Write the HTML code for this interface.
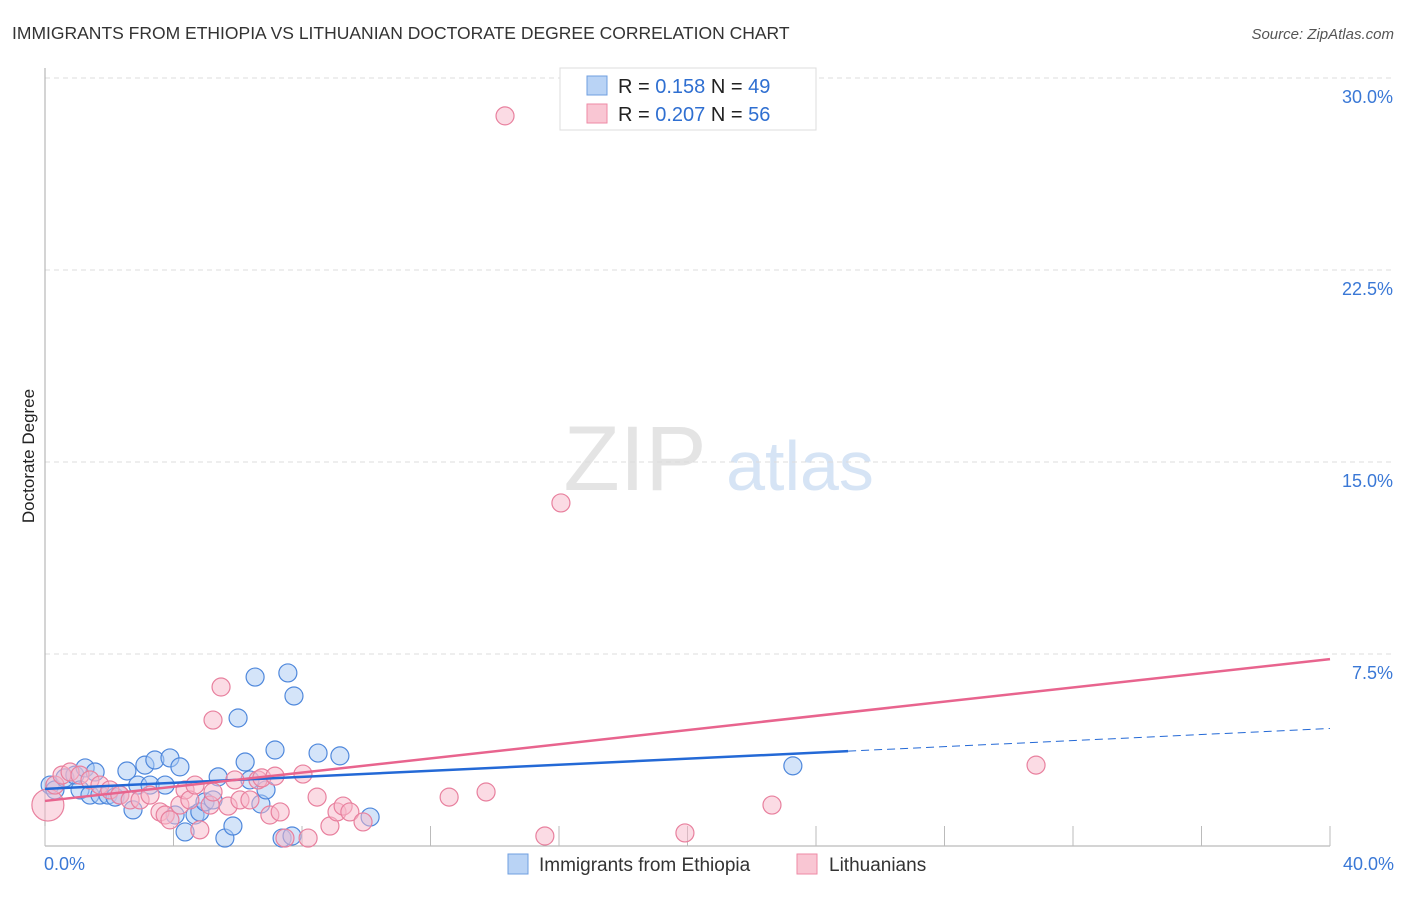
<!DOCTYPE html>
<html><head><meta charset="utf-8"><style>
body{margin:0;background:#fff;font-family:"Liberation Sans",sans-serif}
svg text{font-family:"Liberation Sans",sans-serif}
</style></head><body>
<svg id="chart" width="1406" height="892" viewBox="0 0 1406 892">
<text x="12" y="39" font-size="17.5" fill="#333">IMMIGRANTS FROM ETHIOPIA VS LITHUANIAN DOCTORATE DEGREE CORRELATION CHART</text>
<text x="1394" y="39" font-size="15" fill="#555" font-style="italic" text-anchor="end">Source: ZipAtlas.com</text>
<text x="34" y="456" font-size="17" fill="#222" text-anchor="middle" transform="rotate(-90 34 456)">Doctorate Degree</text>
<g><text x="635" y="490" font-size="92" fill="#e4e4e4" font-family="Liberation Serif,serif" text-anchor="middle">ZIP</text><text x="800" y="490" font-size="70" fill="#d6e4f5" text-anchor="middle">atlas</text></g>
<g id="grid"></g><g id="ticks"></g><g id="pts"></g><g id="lines"></g>
<g>
<rect x="560" y="68" width="256" height="62" fill="#fff" stroke="#ddd"/>
<rect x="587" y="76" width="20" height="19" fill="#b9d3f5" stroke="#6f9fe0"/>
<text x="618" y="93" font-size="20" fill="#222">R = <tspan fill="#2f6fd1"> 0.158</tspan>   N = <tspan fill="#2f6fd1">49</tspan></text>
<rect x="587" y="104" width="20" height="19" fill="#f9c6d3" stroke="#ee8aa6"/>
<text x="618" y="121" font-size="20" fill="#222">R = <tspan fill="#2f6fd1">0.207</tspan>   N = <tspan fill="#2f6fd1">56</tspan></text>
</g>
<g>
<rect x="508" y="854" width="20" height="20" fill="#b9d3f5" stroke="#6f9fe0"/>
<text x="539" y="871" font-size="19" fill="#333">Immigrants from Ethiopia</text>
<rect x="797" y="854" width="20" height="20" fill="#f9c6d3" stroke="#ee8aa6"/>
<text x="829" y="871" font-size="19" fill="#333">Lithuanians</text>
</g>
</svg>
<script>
const yTicks=[7.5,15,22.5,30];
const yTickLabels=["7.5%","15.0%","22.5%","30.0%"];
const xTickVals=[0,4,8,12,16,20,24,28,32,36,40];
const xEndLabels=["0.0%","40.0%"];
const blueX=[0.16,0.31,0.62,0.93,1.09,1.25,1.40,1.56,1.71,1.96,2.18,2.33,2.55,2.74,2.89,3.11,3.27,3.42,3.74,3.89,4.05,4.20,4.36,4.67,4.82,4.98,5.23,5.39,5.60,5.85,6.01,6.23,6.38,6.54,6.72,6.88,7.16,7.38,7.56,7.69,7.75,8.50,9.18,10.12,23.28];
const blueY=[2.38,2.19,2.66,2.77,2.19,3.05,1.99,2.89,1.99,1.99,1.91,1.99,2.93,1.41,2.38,3.16,2.38,3.36,2.38,3.44,1.21,3.09,0.55,1.21,1.33,1.72,1.80,2.70,0.31,0.78,5.00,3.28,2.58,6.60,1.64,2.19,3.75,0.31,6.76,0.39,5.86,3.63,3.52,1.13,3.13];
const pinkX=[0.09,0.31,0.53,0.78,1.09,1.40,1.71,2.02,2.33,2.65,2.96,3.27,3.58,3.74,3.89,4.20,4.36,4.51,4.67,4.82,5.14,5.23,5.48,5.23,5.70,5.91,6.07,6.38,6.63,6.75,7.00,7.16,7.32,7.47,8.03,8.19,8.47,8.87,9.09,9.28,9.49,9.90,12.58,13.73,14.32,15.56,16.06,19.92,22.63,30.85];
const pinkY=[1.60,2.38,2.77,2.89,2.77,2.58,2.38,2.19,1.99,1.80,1.80,1.99,1.33,1.21,1.02,1.60,2.19,1.80,2.38,0.63,1.60,2.11,6.21,4.92,1.56,2.58,1.80,1.80,2.58,2.66,1.21,2.73,1.33,0.31,2.81,0.31,1.91,0.78,1.33,1.56,1.33,0.94,1.91,2.11,28.52,0.39,13.40,0.51,1.60,3.16];
const blueTrend=[2.23,0.059];
const pinkTrend=[1.76,0.1385];
const NS="http://www.w3.org/2000/svg";
const X0=45,X1=1330,Y0=846,Y1=78;
const sx=v=>X0+(v/40)*(X1-X0);
const sy=v=>Y0-(v/30)*(Y0-Y1);
function mk(tag,attrs,parent){const e=document.createElementNS(NS,tag);for(const k in attrs)e.setAttribute(k,attrs[k]);parent.appendChild(e);return e;}
const grid=document.getElementById('grid'),ticks=document.getElementById('ticks'),pts=document.getElementById('pts'),lines=document.getElementById('lines');
yTicks.forEach((v,i)=>{
 const l=mk('line',{x1:X0,x2:1392,y1:sy(v),y2:sy(v),stroke:'#ddd','stroke-dasharray':'5,4'},grid);
 
 
 const t=mk('text',{x:1393,y:sy(v)+25,'font-size':18,fill:'#3a78d6','text-anchor':'end'},ticks);
 t.textContent=yTickLabels[i];
 
 
});
const ax=mk('line',{x1:X0,x2:X0,y1:68,y2:Y0,stroke:'#aaa'},grid);


const bx=mk('line',{x1:X0,x2:X1,y1:Y0,y2:Y0,stroke:'#aaa'},grid);


xTickVals.forEach(v=>{
 const t=mk('line',{x1:sx(v),x2:sx(v),y1:Y0,y2:Y0-20,stroke:'#bbb'},ticks);
 
 
});
[[0,'start',44],[40,'end',1394]].forEach((d,i)=>{
 const t=mk('text',{x:d[2],y:870,'font-size':18,fill:'#3a78d6','text-anchor':d[1]},ticks);
 t.textContent=xEndLabels[i];
 
 
});
function dots(xs,ys,fill,stroke,name){
 xs.forEach((x,i)=>{
  const r=(i===0&&name==='lithuanian-point')?16:9;
  const c=mk('circle',{cx:sx(x),cy:sy(ys[i]),r:r,fill:fill,'fill-opacity':0.5,stroke:stroke,'stroke-width':1.2},pts);
  
  
 });
}
dots(blueX,blueY,'#a9c9f3','#4f88dc','ethiopia-point');
dots(pinkX,pinkY,'#f7b8c9','#e8809e','lithuanian-point');
const bl=mk('line',{x1:sx(0),y1:sy(blueTrend[0]),x2:sx(25),y2:sy(blueTrend[0]+blueTrend[1]*25),stroke:'#2469d6','stroke-width':2.5},lines);


const bd=mk('line',{x1:sx(25),y1:sy(blueTrend[0]+blueTrend[1]*25),x2:sx(40),y2:sy(blueTrend[0]+blueTrend[1]*40),stroke:'#2469d6','stroke-width':1,'stroke-dasharray':'8,5'},lines);


const pl=mk('line',{x1:sx(0),y1:sy(pinkTrend[0]),x2:sx(40),y2:sy(pinkTrend[0]+pinkTrend[1]*40),stroke:'#e8648e','stroke-width':2.5},lines);


</script>
</body></html>
